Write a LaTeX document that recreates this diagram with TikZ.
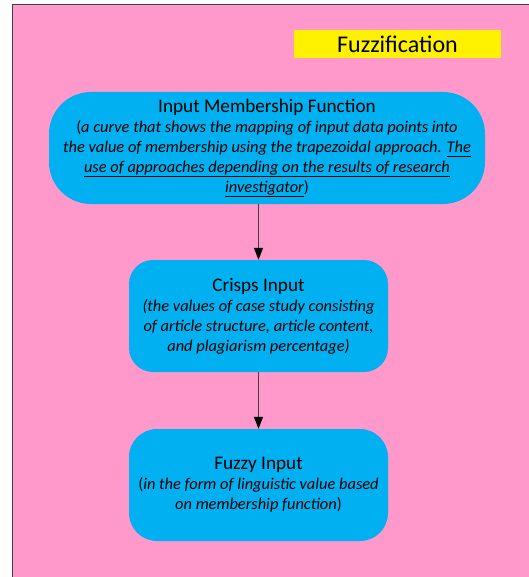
\documentclass[tikz,border=0pt]{standalone}
\usepackage{fontspec}
\setmainfont{Carlito}
\usetikzlibrary{arrows.meta, shapes, positioning}
\definecolor{bgpink}{RGB}{255,153,204}
\definecolor{boxblue}{RGB}{0,176,240}
\tikzset{
  stage/.style = {
    fill=boxblue, rounded corners=#1, align=center,
    minimum height=112pt, inner sep=0pt,
    font=\fontsize{16.4}{20}\selectfont\itshape
  },
  stage/.default = 24pt,
  flow/.style = {-{Triangle[length=12pt, width=9pt, color=black]}, draw=black!75, line width=1.3pt}
}
\newcommand{\stagetitle}[1]{{\upshape\fontsize{19.2}{20}\selectfont #1}}
\newcommand{\uln}[1]{\underline{#1\vphantom{p}}}

\begin{document}
\begin{tikzpicture}[x=1pt, y=-1pt]
  \useasboundingbox (0,0) rectangle (528,577);

  % Background panel
  \draw[fill=bgpink, draw=black!75, line width=1pt] (12.5,4.5) rectangle (545,595);

  % Title
  \node[fill=yellow, minimum width=207pt, minimum height=28pt, inner sep=0pt,
        font=\fontsize{24}{26}\selectfont] (title) at (397.5,44) {Fuzzification};

  % Input membership function
  \node[stage=42pt, minimum width=436pt] (membership) at (267,148) {%
    \stagetitle{Input Membership Function}\\
    \textup{(}a curve that shows the mapping of input data points into\\
    the value of membership using the trapezoidal approach. \uln{The}\\
    \uln{use of approaches depending on the results of research}\\
    \uln{investigator}\textup{)}};

  % Crisps input
  \node[stage, minimum width=259pt] (crisp) at (258.5,316) {%
    \stagetitle{Crisps Input}\\
    (the values of case study consisting\\
    of article structure, article content,\\
    and plagiarism percentage)};

  % Fuzzy input
  \node[stage=28pt, minimum width=259pt] (fuzzy) at (258.5,485) {%
    \stagetitle{Fuzzy Input}\\
    \textup{(}in the form of linguistic value based\\
    on membership function\textup{)}};

  % Connectors
  \draw[flow] (crisp.north |- membership.south) -- (crisp.north);
  \draw[flow] (crisp.south) -- (fuzzy.north);

\end{tikzpicture}
\end{document}
